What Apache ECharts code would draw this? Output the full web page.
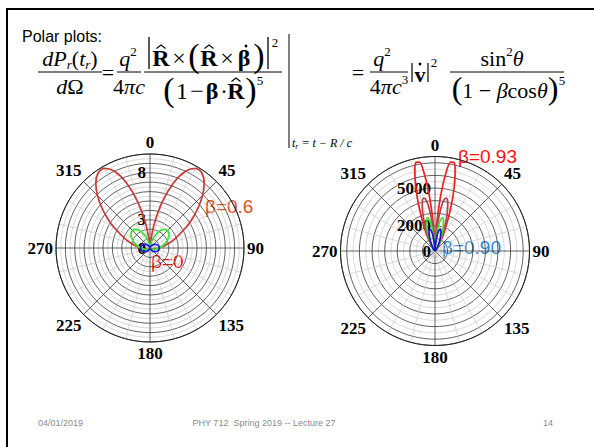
<!DOCTYPE html>
<html><head><meta charset="utf-8">
<script src="https://cdn.jsdelivr.net/npm/echarts@6/dist/echarts.min.js"></script>
<style>html,body{margin:0;padding:0;background:#fff}#c{width:594px;height:447px}</style>
</head><body><div id="c"></div>
<script>
// ---- data ----
const angleLabels = ['0','45','90','135','180','225','270','315'];
const leftRadiusLabels = [0, 3, 8];
const rightRadiusLabels = [0, 2000, 5000];
const leftMax = 10, rightMax = 7500;

// left panel: angle (deg) and radius, half curve 0..180 (mirrored)
const leftAngles = [0,5,10,15,20,25,30,35,40,45,50,55,60,70,80,90,100,110,120,135,150,165,180];
const beta06 = [0,0.721,2.631,5.099,7.409,9.037,9.773,9.676,8.967,7.904,6.707,5.530,4.462,2.784,1.681,1,0.591,0.347,0.202,0.085,0.031,0.007,0];
const beta04 = [0,0.097,0.369,0.770,1.235,1.697,2.096,2.395,2.574,2.636,2.594,2.470,2.289,1.843,1.390,1,0.693,0.465,0.301,0.144,0.057,0.013,0];
const beta00 = [0,0.0076,0.0302,0.067,0.117,0.179,0.25,0.329,0.413,0.5,0.587,0.671,0.75,0.883,0.970,1,0.970,0.883,0.75,0.5,0.25,0.067,0];

// right panel
const rightAngles = [0,2,4,6,8,10,12,14,16,18,20,22,25,28,32,36,40,50,60,90,180];
const beta093 = [0,696,2468,4575,6275,7156,7192,6601,5670,4643,3671,2832,1865,1204,666,371,210,56,17,1,0];
const beta092 = [0,359,1293,2456,3478,4114,4301,4110,3674,3126,2562,2045,1409,946,547,316,184,52,16,1,0];
const beta091 = [0,200,730,1413,2052,2500,2698,2666,2465,2167,1832,1506,1080,752,453,270,162,48,16,1,0];
const beta090 = [0,118,437,859,1273,1589,1762,1790,1703,1540,1338,1129,840,604,378,233,143,44,15,1,0];

function mirror(angles, vals) {
  const pts = angles.map((a, i) => [vals[i], a]);
  for (let i = angles.length - 2; i >= 0; i--) pts.push([vals[i], 360 - angles[i]]);
  return pts;
}

const serif = 'Liberation Serif';
const sans = 'Liberation Sans';

function angleAxis(idx) {
  return {
    polarIndex: idx, type: 'value', min: 0, max: 360, interval: 45,
    startAngle: 90, clockwise: true,
    axisLine: { lineStyle: { color: '#222', width: 1 } },
    axisTick: { show: false },
    axisLabel: {
      margin: 3, fontFamily: serif, fontWeight: 'bold', fontSize: 17, color: '#000',
      formatter: v => (v >= 360 ? '' : angleLabels[Math.round(v / 45)])
    },
    splitLine: { lineStyle: { color: '#3a3a3a', width: 0.8 } },
    minorTick: { show: false, splitNumber: 3 },
    minorSplitLine: { show: true, lineStyle: { color: '#c8c8c8', width: 0.7 } }
  };
}
function radiusAxis(idx, max, interval, labels) {
  return {
    polarIndex: idx, type: 'value', min: 0, max: max, interval: interval,
    axisLine: { show: false }, axisTick: { show: false },
    axisLabel: {
      margin: 4, fontFamily: serif, fontWeight: 'bold', fontSize: 17, color: '#000',
      formatter: v => (labels.indexOf(v) >= 0 ? String(v) : '')
    },
    splitLine: { lineStyle: { color: '#3a3a3a', width: 0.8 } },
    minorTick: { show: false, splitNumber: 2 },
    minorSplitLine: { show: true, lineStyle: { color: '#c8c8c8', width: 0.7 } }
  };
}
function curve(idx, data, color, z) {
  return {
    type: 'line', coordinateSystem: 'polar', polarIndex: idx, data: data,
    showSymbol: false, smooth: 0.3, z: z,
    lineStyle: { color: color, width: 1.7 }, silent: true
  };
}

// ---- formula pieces (decoration) ----
function T(x, y, text, o) {
  return { type: 'text', x: x, y: y, silent: true,
    style: Object.assign({ text: text, fontFamily: serif, fontSize: 22, fill: '#000',
      align: 'center', verticalAlign: 'middle' }, o || {}) };
}
function L(x1, y1, x2, y2, w) {
  return { type: 'line', silent: true, shape: { x1: x1, y1: y1, x2: x2, y2: y2 },
    style: { stroke: '#000', lineWidth: w || 1 } };
}
function HAT(x, y) {
  return { type: 'polyline', silent: true, shape: { points: [[x - 4.5, y + 3.5], [x, y], [x + 4.5, y + 3.5]] },
    style: { stroke: '#000', lineWidth: 1.1, fill: null } };
}
function DOT(x, y) {
  return { type: 'circle', silent: true, shape: { cx: x, cy: y, r: 1.4 }, style: { fill: '#000' } };
}
const richBase = {
  i: { fontFamily: serif, fontStyle: 'italic', fontSize: 22, lineHeight: 26 },
  n: { fontFamily: serif, fontSize: 22, lineHeight: 26 },
  s: { fontFamily: serif, fontStyle: 'italic', fontSize: 13, lineHeight: 13, verticalAlign: 'bottom' },
  p: { fontFamily: serif, fontSize: 13, lineHeight: 13, verticalAlign: 'top' }
};
function R(x, y, text, o) {
  return T(x, y, text, Object.assign({ rich: richBase }, o || {}));
}

const graphics = [
  L(6, 9, 594, 9, 2), L(7, 8, 7, 447, 2),
  T(22, 36, 'Polar plots:', { fontFamily: sans, fontSize: 16, align: 'left' }),
  // left formula
  R(70, 58, '{i|dP}{s|r}{n|(}{i|t}{s|r}{n|)}'),
  L(38, 72, 102, 72),
  R(70, 86, '{i|d}{n|Ω}'),
  T(108, 72, '='),
  R(128, 58, '{i|q}{p|2}'),
  L(117, 72, 141, 72),
  R(129, 86, '{n|4}{i|πc}'),
  // big fraction numerator
  L(149, 37, 149, 69, 1.3),
  T(161, 58, 'R', { fontWeight: 'bold', fontSize: 24 }),
  HAT(161, 45),
  T(179, 58, '×', { fontSize: 24 }),
  T(194, 55, '(', { fontSize: 34 }),
  T(209, 58, 'R', { fontWeight: 'bold', fontSize: 24 }),
  HAT(209, 45),
  T(227, 58, '×', { fontSize: 24 }),
  T(244, 58, 'β', { fontWeight: 'bold', fontSize: 24 }),
  DOT(246, 46),
  T(259, 55, ')', { fontSize: 34 }),
  L(268, 37, 268, 69, 1.3),
  T(275, 42, '2', { fontSize: 13 }),
  L(144, 72, 282, 72),
  // big fraction denominator
  T(169, 89, '(', { fontSize: 34 }),
  T(182, 91, '1', { fontSize: 24 }),
  T(197, 91, '−', { fontSize: 24 }),
  T(212, 91, 'β', { fontWeight: 'bold', fontSize: 24 }),
  T(224, 91, '·', { fontSize: 24 }),
  T(236, 91, 'R', { fontWeight: 'bold', fontSize: 24 }),
  HAT(236, 78),
  T(251, 89, ')', { fontSize: 34 }),
  T(260, 80, '5', { fontSize: 13 }),
  // evaluation bar
  L(289, 34, 289, 148, 1),
  T(292, 143, '{a|t}{b|r}{a| = t − R / c}', { align: 'left',
    rich: { a: { fontFamily: serif, fontStyle: 'italic', fontSize: 12, lineHeight: 14 },
            b: { fontFamily: serif, fontStyle: 'italic', fontSize: 8, lineHeight: 8, verticalAlign: 'bottom' } } }),
  // right formula
  T(358, 72, '='),
  R(382, 58, '{i|q}{p|2}'),
  L(370, 72, 408, 72),
  R(389, 86, '{n|4}{i|πc}{p|3}'),
  L(412, 63, 412, 82, 1.2),
  T(420, 74, 'v', { fontWeight: 'bold', fontSize: 22 }),
  DOT(420, 64),
  L(428, 63, 428, 82, 1.2),
  T(434, 62, '2', { fontSize: 13 }),
  R(502, 58, '{n|sin}{p|2}{i|θ}'),
  L(450, 72, 564, 72),
  T(457, 88, '(', { fontSize: 32 }),
  R(505, 90, '{n|1 − }{i|β}{n|cos}{i|θ}'),
  T(553, 88, ')', { fontSize: 32 }),
  T(562, 80, '5', { fontSize: 13 }),
  // curve labels
  T(205, 206, 'β=0.6', { fontFamily: sans, fontSize: 19, fill: '#e0501c', align: 'left' }),
  T(151, 261, 'β=0', { fontFamily: sans, fontSize: 19, fill: '#ff1010', align: 'left' }),
  T(458, 156, 'β=0.93', { fontFamily: sans, fontSize: 19, fill: '#ff1010', align: 'left' }),
  T(442, 247, 'β=0.90', { fontFamily: sans, fontSize: 19, fill: '#2a88d8', align: 'left' }),
  // footer
  T(38, 423, '04/01/2019', { fontFamily: sans, fontSize: 9, fill: '#8a8a8a', align: 'left' }),
  T(264, 423, 'PHY 712  Spring 2019 -- Lecture 27', { fontFamily: sans, fontSize: 9, fill: '#8a8a8a' }),
  T(548, 423, '14', { fontFamily: sans, fontSize: 9, fill: '#8a8a8a' })
];

const chart = echarts.init(document.getElementById('c'), null, { renderer: 'svg', width: 594, height: 447 });
chart.setOption({
  animation: false,
  backgroundColor: '#fff',
  polar: [ { center: [150, 248], radius: 94 }, { center: [435, 251], radius: 94.5 } ],
  angleAxis: [ angleAxis(0), angleAxis(1) ],
  radiusAxis: [ radiusAxis(0, leftMax, 1, leftRadiusLabels), radiusAxis(1, rightMax, 1000, rightRadiusLabels) ],
  series: [
    curve(0, mirror(leftAngles, beta06), '#c83a3a', 3),
    curve(0, mirror(leftAngles, beta04), '#33e633', 4),
    curve(0, mirror(leftAngles, beta00), '#1a1ae0', 5),
    curve(1, mirror(rightAngles, beta093), '#ee2020', 3),
    curve(1, mirror(rightAngles, beta092), '#b5404e', 4),
    curve(1, mirror(rightAngles, beta091), '#40e030', 5),
    curve(1, mirror(rightAngles, beta090), '#1414c8', 6)
  ],
  graphic: graphics
});
</script></body></html>
